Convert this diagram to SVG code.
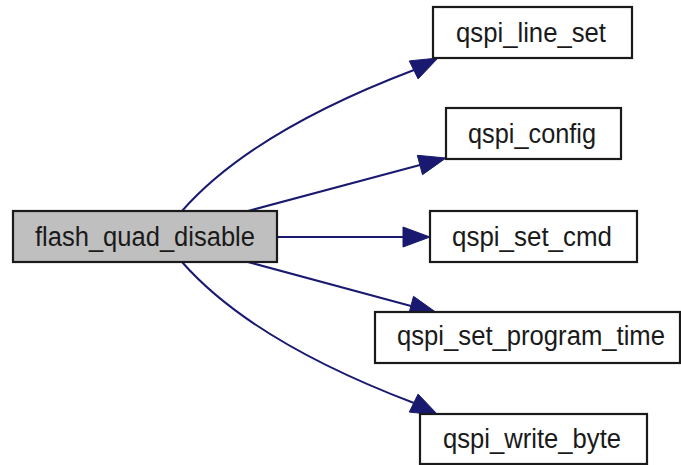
<svg xmlns="http://www.w3.org/2000/svg" width="681" height="465" viewBox="0 0 681 465">
  <style>
    .node rect { fill: #ffffff; stroke: #1a1a1a; stroke-width: 2.2; }
    .node.root rect { fill: #bfbfbf; }
    .node text { font-family: "Liberation Sans", Arial, sans-serif; font-size: 27px; fill: #1a1a1a; text-anchor: middle; }
    .edge path { fill: none; stroke: #191970; stroke-width: 2; }
    .edge polygon { fill: #191970; stroke: #191970; stroke-width: 1; }
  </style>
  <rect width="681" height="465" fill="#ffffff"/>

  <!-- call edges -->
  <g id="edges">
    <g class="edge" id="e_line_set">
      <path d="M182,211 C240,145 335,100 414,70"/>
      <polygon points="438,58 418.1,78.9 409.3,60.9"/>
    </g>
    <g class="edge" id="e_config">
      <path d="M248,211 L420,165"/>
      <polygon points="446,158 422.5,174.7 417.3,155.3"/>
    </g>
    <g class="edge" id="e_set_cmd">
      <path d="M277,237 L403,237"/>
      <polygon points="430,237 403,227 403,247"/>
    </g>
    <g class="edge" id="e_program_time">
      <path d="M248,262 L411,306"/>
      <polygon points="437,313 408.3,315.7 413.5,296.3"/>
    </g>
    <g class="edge" id="e_write_byte">
      <path d="M182,262 C240,328 335,373 414,403"/>
      <polygon points="438,415 418.1,394.1 409.3,412.1"/>
    </g>
  </g>

  <!-- function nodes -->
  <g class="node root" id="flash_quad_disable">
    <rect x="13" y="211" width="264" height="51"/>
    <text x="145" y="246" textLength="220" lengthAdjust="spacingAndGlyphs">flash_quad_disable</text>
  </g>
  <g class="node" id="qspi_line_set">
    <rect x="433" y="7" width="199" height="51"/>
    <text x="531" y="42" textLength="150" lengthAdjust="spacingAndGlyphs">qspi_line_set</text>
  </g>
  <g class="node" id="qspi_config">
    <rect x="446" y="108" width="175" height="51"/>
    <text x="532" y="143" textLength="128" lengthAdjust="spacingAndGlyphs">qspi_config</text>
  </g>
  <g class="node" id="qspi_set_cmd">
    <rect x="430" y="211" width="207" height="51"/>
    <text x="532" y="246" textLength="160" lengthAdjust="spacingAndGlyphs">qspi_set_cmd</text>
  </g>
  <g class="node" id="qspi_set_program_time">
    <rect x="375" y="312" width="305" height="51"/>
    <text x="531" y="345" textLength="268" lengthAdjust="spacingAndGlyphs">qspi_set_program_time</text>
  </g>
  <g class="node" id="qspi_write_byte">
    <rect x="420" y="414" width="227" height="50"/>
    <text x="532" y="448" textLength="178" lengthAdjust="spacingAndGlyphs">qspi_write_byte</text>
  </g>
</svg>
